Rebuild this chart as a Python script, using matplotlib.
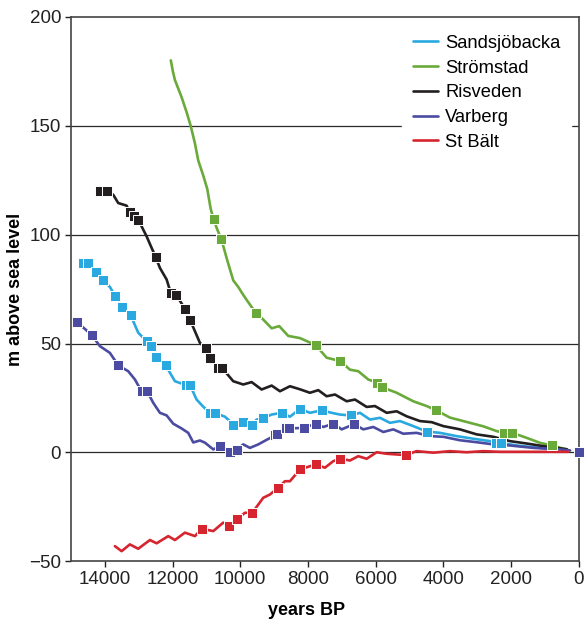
import matplotlib.pyplot as plt

plt.rcParams["font.family"] = ["Liberation Sans", "DejaVu Sans"]

# --- Shoreline curves (years BP, metres above sea level) ---
sand_yr = [14637, 14489, 14262, 14046, 13850, 13701, 13485, 13237, 13013, 12765,
           12637, 12499, 12204, 11929, 11613, 11486, 11290, 11093, 10895, 10748,
           10452, 10305, 10207, 9912, 9664, 9517, 9340, 9073, 8778, 8533, 8238,
           7943, 7597, 7303, 7057, 6741, 6466, 6170, 5875, 5580, 5285, 4892,
           4496, 4104, 3611, 3119, 2627, 2449, 2302, 1838, 1150, 360]
sand_m = [87, 87, 83, 79, 76, 72, 67, 63, 55, 51,
          49, 44, 40, 32.7, 31, 31, 24.3, 21, 18.2, 18.2,
          16.4, 14.4, 12.6, 14, 12.6, 15.1, 15.6, 17.4, 18.2, 16.4, 20,
          18.2, 19.3, 18.2, 17.4, 17, 18.2, 15.1, 15.9, 13.6, 14.4, 12.1,
          9.6, 9, 7.5, 6.3, 5.2, 4.4, 4.4, 3.2, 2.1, 1.4]

strom_yr = [12050, 11990, 11930, 11830, 11730, 11580, 11465, 11340, 11240, 11090,
            10975, 10875, 10790, 10670, 10560, 10380, 10207, 10060, 9940, 9811,
            9537, 9321, 9073, 8849, 8583, 8238, 7774, 7450, 7057, 6761, 6516,
            6221, 5955, 5825, 5382, 4892, 4496, 4222, 3808, 3315, 2825, 2429,
            2213, 1968, 1543, 1150, 786, 300]
strom_m = [180, 175, 171, 167, 163, 156, 150, 142, 134, 127,
           121, 112, 107, 102, 98, 88, 79, 76, 73, 70,
           64, 61, 57, 58, 53.5, 52.5, 49.3, 43.5, 42, 38, 37.3,
           33.5, 32, 30, 27.4, 23.5, 21.3, 19.4, 16, 14, 12, 9.8,
           9, 9, 6.7, 4.4, 3.2, 1]

ris_yr = [14144, 13946, 13751, 13603, 13356, 13258, 13140, 13013, 12765, 12617,
          12499, 12372, 12174, 12047, 11899, 11634, 11486, 11191, 11013, 10895,
          10650, 10550, 10207, 9912, 9664, 9370, 9073, 8828, 8533, 8238, 7943,
          7696, 7450, 7204, 6858, 6613, 6268, 6022, 5677, 5382, 5087, 4694,
          4348, 4006, 3513, 3020, 2529, 2036, 1543, 1053, 360]
ris_m = [120, 120, 118.3, 114.5, 113.3, 110.2, 108.4, 106.9, 99.2, 93.9,
         89.8, 84.7, 79.4, 73, 72.5, 66, 61, 50.3, 48, 43.2,
         39, 39, 32.7, 31.2, 32.3, 28.9, 30.7, 28.1, 30.4, 29, 27.4,
         28.6, 25.8, 26.6, 23.5, 24.3, 20.9, 21.3, 18.2, 18.9, 16.6, 14.4,
         13.9, 12.1, 10.6, 8.3, 7.2, 5.2, 4.1, 2.9, 1.5]

varb_yr = [14832, 14389, 14144, 13848, 13603, 13308, 13110, 12912, 12747, 12570,
           12372, 12174, 11979, 11731, 11536, 11388, 11191, 11043, 10797, 10600,
           10305, 10107, 9912, 9714, 9468, 9222, 8976, 8908, 8651, 8553, 8120,
           7774, 7549, 7250, 7007, 6640, 6368, 6073, 5777, 5482, 5187, 4794,
           4399, 4006, 3513, 3020, 2529, 2036, 1346, 560, 260]
varb_m = [60, 54, 48.8, 45.7, 40, 37.3, 33.5, 28, 28, 22.8,
          18.2, 17, 13.2, 11, 9, 4.6, 5.5, 4.5, 1.4, 2.9,
          0, 1.2, 3.7, 2.1, 3.7, 5.8, 7.8, 8.7, 11, 11, 11.3,
          13.2, 11.7, 13.2, 10.6, 13, 10.6, 11.7, 9.4, 10.6, 8.6, 9,
          7.5, 7.2, 5.6, 4.7, 3.7, 3.2, 2.1, 1.4, 0.9]

balt_yr = [13701, 13503, 13258, 13013, 12667, 12469, 12126, 11929, 11634, 11338,
           11140, 10797, 10502, 10334, 10107, 9862, 9646, 9321, 9124, 8878,
           8681, 8533, 8238, 7774, 7500, 7254, 7057, 6761, 6516, 6268, 5973,
           5677, 5116, 4794, 4302, 3808, 3315, 2825, 2332, 1346, 315]
balt_m = [-43, -45.3, -42.2, -44.2, -40.2, -41.7, -38.4, -40.2, -36.8, -38.4,
          -35, -36.1, -32.2, -33.8, -30.7, -27.7, -27.7, -20.8, -19.3, -16.2,
          -13.2, -13.2, -7.8, -5.5, -7, -4, -2.8, -3.7, -1.7, -2.9, 0.1,
          -0.6, -1.2, 0.6, -0.1, 0.6, 0.1, 0.6, 0.3, 0.3, 0.3]

# --- Dated observations (square markers) ---
sand_obs_yr = [14637, 14489, 14262, 14046, 13701, 13485, 13237, 12765, 12637, 12499,
               12204, 11613, 11486, 10895, 10748, 10207, 9912, 9664, 9340, 8778,
               8238, 7597, 6741, 4496, 2449, 2302]
sand_obs_m = [87, 87, 83, 79, 72, 67, 63, 51, 49, 44,
              40, 31, 31, 18.2, 18.2, 12.6, 14, 12.6, 15.6, 18.2,
              20, 19.3, 17, 9.6, 4.4, 4.4]

strom_obs_yr = [10790, 10560, 9537, 7774, 7057, 5955, 5825, 4222, 2213, 1968, 786]
strom_obs_m = [107, 98, 64, 49.3, 42, 32, 30, 19.4, 9, 9, 3.2]

ris_obs_yr = [14144, 13946, 13258, 13140, 13013, 12499, 12047, 11899, 11634, 11486,
              11013, 10895, 10650, 10550]
ris_obs_m = [120, 120, 110.2, 108.4, 106.9, 89.8, 73, 72.5, 66, 61,
             48, 43.2, 39, 39]

varb_obs_yr = [14832, 14389, 13603, 12912, 12747, 10600, 10305, 10107, 8976, 8908,
               8651, 8553, 8120, 7774, 7250, 6640, 0]
varb_obs_m = [60, 54, 40, 28, 28, 2.9, 0, 1.2, 7.8, 8.7,
              11, 11, 11.3, 13.2, 13.2, 13, 0]

balt_obs_yr = [11140, 10334, 10107, 9646, 8878, 8238, 7774, 7057, 5116]
balt_obs_m = [-35, -33.8, -30.7, -27.7, -16.2, -7.8, -5.5, -2.8, -1.2]

series = [
    ("Sandsjöbacka", "#29a9e0", sand_yr, sand_m, sand_obs_yr, sand_obs_m),
    ("Strömstad", "#6aaa3a", strom_yr, strom_m, strom_obs_yr, strom_obs_m),
    ("Risveden", "#231f20", ris_yr, ris_m, ris_obs_yr, ris_obs_m),
    ("Varberg", "#4b4ba2", varb_yr, varb_m, varb_obs_yr, varb_obs_m),
    ("St Bält", "#d6252f", balt_yr, balt_m, balt_obs_yr, balt_obs_m),
]

fig = plt.figure(figsize=(5.86, 6.21), dpi=100)
ax = fig.add_axes([0.121, 0.096, 0.867, 0.877])

# horizontal reference lines
for yv in [0, 50, 100, 150]:
    ax.axhline(yv, color="#2a2a2a", linewidth=0.9, zorder=1)

for name, col, xs, ys, oxs, oys in series:
    ax.plot(xs, ys, color=col, linewidth=1.9, label=name, zorder=2,
            solid_joinstyle="round", solid_capstyle="round")
    ax.plot(oxs, oys, linestyle="none", marker="s", markersize=7.5,
            markerfacecolor=col, markeredgecolor="white", markeredgewidth=0.7,
            zorder=3, clip_on=False)

ax.set_xlim(15000, 0)
ax.set_ylim(-50, 200)
ax.set_xticks([14000, 12000, 10000, 8000, 6000, 4000, 2000, 0])
ax.set_yticks([-50, 0, 50, 100, 150, 200])
ax.set_yticklabels(["\u221250", "0", "50", "100", "150", "200"])
ax.tick_params(direction="out", length=4, width=1, labelsize=13.5,
               colors="#222222", top=False, right=False, pad=3)
for sp in ax.spines.values():
    sp.set_color("#444444")
    sp.set_linewidth(1.2)

ax.set_xlabel("years BP", fontsize=13, fontweight="bold", labelpad=11)
ax.xaxis.set_label_coords(0.463, -0.075)
ax.set_ylabel("m above sea level", fontsize=13, fontweight="bold", labelpad=4)

leg = ax.legend(loc="upper right", bbox_to_anchor=(0.985, 0.987), fontsize=13.2,
                frameon=True, fancybox=False, framealpha=1, facecolor="white",
                edgecolor="white", handlelength=1.37, handletextpad=0.38,
                labelspacing=0.42, borderpad=0.6, borderaxespad=0)
leg.set_zorder(5)

fig.savefig("out.png", dpi=100)
